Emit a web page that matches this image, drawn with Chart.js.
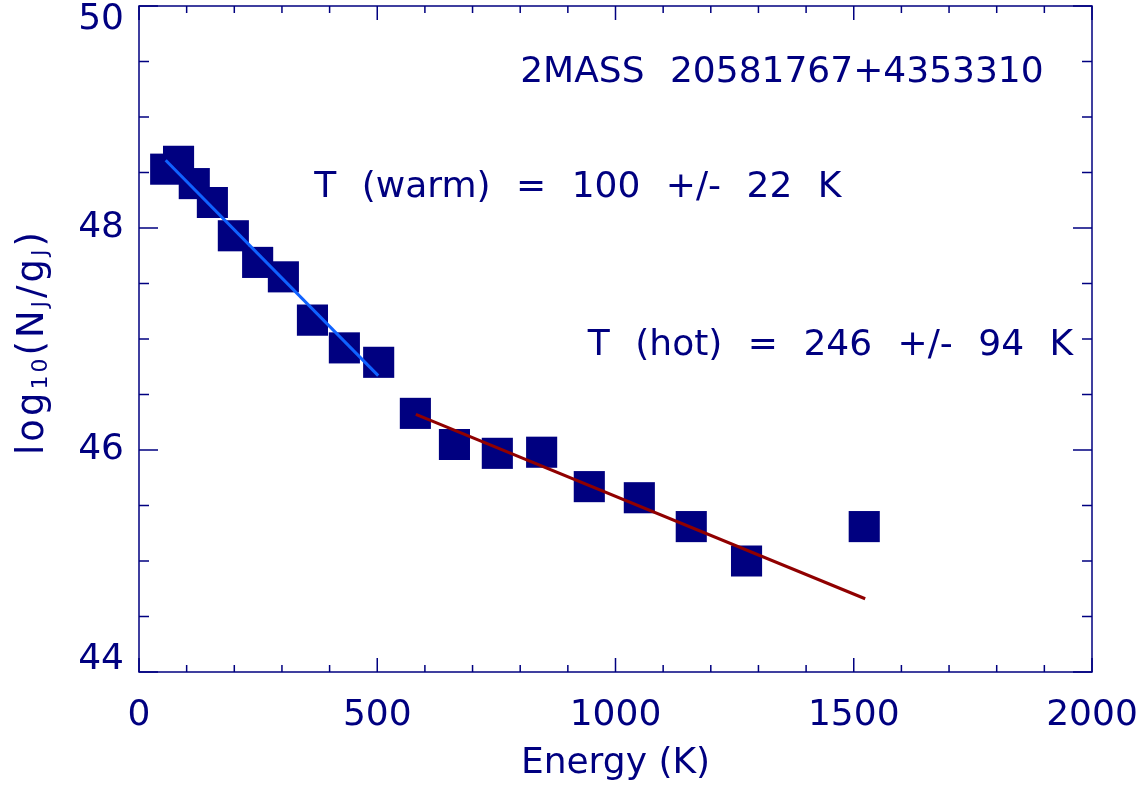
<!DOCTYPE html>
<html>
<head>
<meta charset="utf-8">
<title>Rotation diagram</title>
<script src="https://cdn.jsdelivr.net/npm/chart.js@4.4.1/dist/chart.umd.min.js"></script>
<style>
  html, body { margin: 0; padding: 0; background: #fff; }
  #wrap { width: 1148px; height: 792px; }
</style>
</head>
<body>
<div id="wrap"><canvas id="popChart" width="1148" height="792"></canvas></div>
<script>
// upper level energies (K) and log10(N_J/g_J)
const energyK = [56, 83, 116, 154, 198, 249, 303, 364, 431, 503, 580, 662, 752, 845, 945, 1050, 1159, 1275, 1522];
const logNg = [48.53, 48.60, 48.40, 48.23, 47.93, 47.69, 47.56, 47.17, 46.92, 46.79, 46.33, 46.05, 45.97, 45.98, 45.67, 45.57, 45.31, 45.00, 45.31];

// fitted lines (end points)
const warmFitX = [56, 502];
const warmFitY = [48.61, 46.67];
const hotFitX = [581, 1524];
const hotFitY = [46.32, 44.66];

const xTickLabels = [0, 500, 1000, 1500, 2000];
const yTickLabels = [44, 46, 48, 50];

const sourceName = '2MASS 20581767+4353310';
const warmLabel = 'T (warm) = 100 +/- 22 K';
const hotLabel = 'T (hot) = 246 +/- 94 K';

const NAVY = '#000080';
const FAMILY = '"DejaVu Sans", sans-serif';

// where the text notes sit, in data units (left edge, baseline)
const notes = [
    { text: sourceName, x: 800, y: 49.315 },
    { text: warmLabel, x: 368, y: 48.28 },
    { text: hotLabel, x: 942, y: 46.855 }
];

const toPoints = (xs, ys) => xs.map((v, i) => ({ x: v, y: ys[i] }));

// IDL style box: inward ticks on all four sides, y labels, y title, notes
const idlFrame = {
    id: 'idlFrame',
    afterDatasetsDraw(chart) {
        const { ctx, chartArea: a, scales: { x, y } } = chart;
        ctx.save();
        ctx.strokeStyle = NAVY;
        ctx.lineWidth = 1.5;
        ctx.strokeRect(a.left, a.top, a.right - a.left, a.bottom - a.top);

        ctx.beginPath();
        x.ticks.forEach(t => {
            const px = x.getPixelForValue(t.value);
            const len = t.value % 500 === 0 ? 14 : 7;
            ctx.moveTo(px, a.bottom); ctx.lineTo(px, a.bottom - len);
            ctx.moveTo(px, a.top); ctx.lineTo(px, a.top + len);
        });
        y.ticks.forEach(t => {
            const py = y.getPixelForValue(t.value);
            const len = t.value % 2 === 0 ? 19 : 10;
            ctx.moveTo(a.left, py); ctx.lineTo(a.left + len, py);
            ctx.moveTo(a.right, py); ctx.lineTo(a.right - len, py);
        });
        ctx.stroke();

        // y tick labels, kept inside the box height like IDL does
        ctx.fillStyle = NAVY;
        ctx.font = '36px ' + FAMILY;
        ctx.textAlign = 'right';
        ctx.textBaseline = 'middle';
        yTickLabels.forEach(v => {
            let py = y.getPixelForValue(v);
            py = Math.min(Math.max(py, a.top + 14), a.bottom - 12);
            ctx.fillText(String(v), a.left - 15, py);
        });

        // y title with subscripts
        const parts = [['log', 0], ['10', 1], ['(N', 0], ['J', 1], ['/g', 0], ['J', 1], [')', 0]];
        const mainFont = '37px ' + FAMILY;
        const subFont = '22px ' + FAMILY;
        ctx.letterSpacing = '3px';
        let total = 0;
        parts.forEach(p => { ctx.font = p[1] ? subFont : mainFont; total += ctx.measureText(p[0]).width; });
        ctx.save();
        ctx.translate(43, (a.top + a.bottom) / 2 + 3);
        ctx.rotate(-Math.PI / 2);
        ctx.textAlign = 'left';
        ctx.textBaseline = 'alphabetic';
        let cx = -total / 2;
        parts.forEach(p => {
            ctx.font = p[1] ? subFont : mainFont;
            ctx.fillText(p[0], cx, p[1] ? 4 : 0);
            cx += ctx.measureText(p[0]).width;
        });
        ctx.restore();
        ctx.letterSpacing = '0px';

        // notes
        ctx.font = '36px ' + FAMILY;
        ctx.textAlign = 'left';
        ctx.textBaseline = 'alphabetic';
        ctx.wordSpacing = '14px';
        notes.forEach(n => ctx.fillText(n.text, x.getPixelForValue(n.x), y.getPixelForValue(n.y)));
        ctx.restore();
    }
};

new Chart(document.getElementById('popChart'), {
    type: 'scatter',
    data: {
        datasets: [
            {
                label: 'warm fit',
                data: toPoints(warmFitX, warmFitY),
                showLine: true,
                borderColor: '#1062ff',
                borderWidth: 3,
                pointRadius: 0
            },
            {
                label: 'hot fit',
                data: toPoints(hotFitX, hotFitY),
                showLine: true,
                borderColor: '#900000',
                borderWidth: 3,
                pointRadius: 0
            },
            {
                label: 'levels',
                data: toPoints(energyK, logNg),
                showLine: false,
                pointStyle: 'rect',
                pointRadius: 22,
                pointHoverRadius: 22,
                pointBorderWidth: 0,
                pointBackgroundColor: NAVY,
                pointBorderColor: NAVY
            }
        ]
    },
    options: {
        responsive: false,
        animation: false,
        events: [],
        layout: { autoPadding: false, padding: { top: 6, right: 56, left: 0, bottom: 0 } },
        plugins: { legend: { display: false }, tooltip: { enabled: false } },
        scales: {
            x: {
                type: 'linear', min: 0, max: 2000,
                afterFit: s => { s.height = 120; s.paddingLeft = 0; s.paddingRight = 0; },
                border: { display: false },
                grid: { display: false, drawTicks: false },
                ticks: {
                    stepSize: 100, maxTicksLimit: 30, autoSkip: false, maxRotation: 0,
                    padding: 22, color: NAVY, font: { family: FAMILY, size: 36 },
                    callback: v => xTickLabels.includes(v) ? String(v) : ''
                },
                title: { display: true, text: 'Energy (K)', color: NAVY, font: { family: FAMILY, size: 36 }, padding: { top: 0, bottom: 7 } }
            },
            y: {
                type: 'linear', min: 44, max: 50,
                afterFit: s => { s.width = 139; s.paddingTop = 0; s.paddingBottom = 0; },
                border: { display: false },
                grid: { display: false, drawTicks: false },
                ticks: { display: false, stepSize: 0.5, maxTicksLimit: 30 }
            }
        }
    },
    plugins: [idlFrame]
});
</script>
</body>
</html>
